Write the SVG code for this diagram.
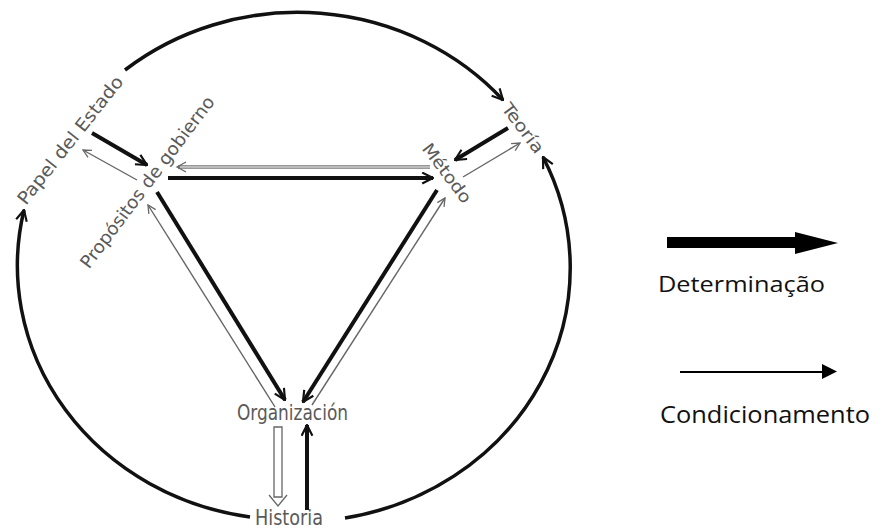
<svg xmlns="http://www.w3.org/2000/svg" width="887" height="530" viewBox="0 0 887 530">
<style>
.hw{font-family:"DejaVu Sans Condensed","Liberation Sans Narrow","Liberation Sans",sans-serif;fill:#5a5a5a;font-weight:normal}
.lg{font-family:"Open Sans","Liberation Sans",sans-serif;fill:#111}
.thick{stroke:#111;stroke-width:4;fill:none;marker-end:url(#hk)}
.arc{stroke:#111;stroke-width:3.5;fill:none;marker-end:url(#hk)}
.thin{stroke:#666;stroke-width:1.4;fill:none;marker-end:url(#ht)}
</style>
<defs>
<marker id="hk" viewBox="0 0 12 12" markerUnits="userSpaceOnUse" markerWidth="13" markerHeight="13" refX="11" refY="6" orient="auto">
<path d="M1,1 L11,6 L1,11" stroke="#111" stroke-width="2" fill="none"/>
</marker>
<marker id="ht" viewBox="0 0 10 10" markerUnits="userSpaceOnUse" markerWidth="10" markerHeight="10" refX="9" refY="5" orient="auto">
<path d="M1,1 L9,5 L1,9" stroke="#666" stroke-width="1.3" fill="none"/>
</marker>
</defs>
<rect width="887" height="530" fill="#fff"/>
<g id="connectors">
<path class="arc" d="M125,70 A272,254 0 0 1 503,100"/>
<path class="arc" d="M250,517 A272,254 0 0 1 24,210"/>
<path class="arc" d="M345,518 A272,254 0 0 0 543,157"/>
<line class="thick" x1="92" y1="133" x2="147" y2="165"/>
<line class="thick" x1="168" y1="178" x2="433" y2="178"/>
<line class="thick" x1="157" y1="192" x2="285" y2="400"/>
<line class="thick" x1="437" y1="190" x2="303" y2="402"/>
<line class="thick" x1="508" y1="128" x2="455" y2="160"/>
<line class="thick" x1="307" y1="510" x2="307" y2="425"/>
<line class="thin" x1="137" y1="180" x2="83" y2="150"/>
<line x1="430" y1="167" x2="178" y2="167" stroke="#777" stroke-width="3.5"/>
<line x1="430" y1="167" x2="180" y2="167" stroke="#fff" stroke-width="1.2"/>
<path d="M186,162 L177,167 L186,172" stroke="#666" stroke-width="1.3" fill="none"/>
<line class="thin" x1="275" y1="407" x2="148" y2="205"/>
<line class="thin" x1="312" y1="405" x2="445" y2="198"/>
<line class="thin" x1="463" y1="177" x2="520" y2="143"/>
<path d="M274,427 L282,427 L282,497 L274,497 Z" stroke="#666" stroke-width="1.3" fill="#fff"/>
<path d="M269,495 L278,506 L287,495" stroke="#666" stroke-width="1.3" fill="none"/>
</g>
<g id="papel">
<text class="hw" x="70" y="140" font-size="18" text-anchor="middle" dominant-baseline="central" textLength="158" lengthAdjust="spacingAndGlyphs" transform="rotate(-51.6 70 140)">Papel del Estado</text>
</g>
<g id="propositos">
<text class="hw" x="147" y="182" font-size="18" text-anchor="middle" dominant-baseline="central" textLength="210" lengthAdjust="spacingAndGlyphs" transform="rotate(-53 147 182)">Propósitos de gobierno</text>
</g>
<g id="teoria">
<text class="hw" x="523" y="128" font-size="17" text-anchor="middle" dominant-baseline="central" textLength="58" lengthAdjust="spacingAndGlyphs" transform="rotate(53 523 128)">Teoría</text>
</g>
<g id="metodo">
<text class="hw" x="447" y="173" font-size="17" text-anchor="middle" dominant-baseline="central" textLength="70" lengthAdjust="spacingAndGlyphs" transform="rotate(53 447 173)">Método</text>
</g>
<g id="organizacion">
<text class="hw" x="237" y="420" font-size="21" textLength="111" lengthAdjust="spacingAndGlyphs">Organización</text>
</g>
<g id="historia">
<text class="hw" x="255" y="525" font-size="21" textLength="68" lengthAdjust="spacingAndGlyphs">Historia</text>
</g>
<g id="legend">
<path d="M667,237 L795,237 L795,232 L838,243 L795,254 L795,248 L667,248 Z" fill="#000"/>
<text class="lg" x="658" y="292" font-size="22" textLength="167" lengthAdjust="spacingAndGlyphs">Determinação</text>
<line x1="680" y1="372" x2="824" y2="372" stroke="#000" stroke-width="2"/>
<path d="M822,364 L837,371.5 L822,379 Z" fill="#000"/>
<text class="lg" x="660" y="423" font-size="23" textLength="210" lengthAdjust="spacingAndGlyphs">Condicionamento</text>
</g>
</svg>
